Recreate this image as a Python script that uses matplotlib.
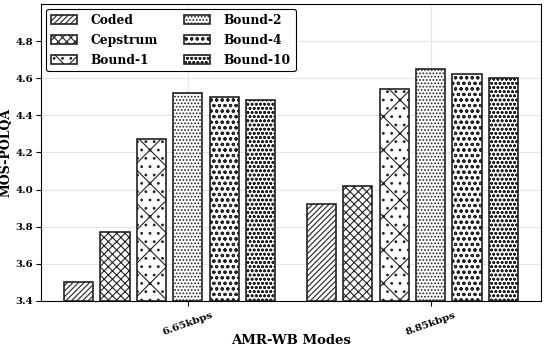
import numpy as np
import matplotlib
matplotlib.use('Agg')
import matplotlib.pyplot as plt

plt.rcParams['font.family'] = 'DejaVu Serif'
plt.rcParams['font.weight'] = 'bold'
plt.rcParams['hatch.linewidth'] = 0.8

# data
modes = ['6.65kbps', '8.85kbps']
methods = ['Coded', 'Cepstrum', 'Bound-1', 'Bound-2', 'Bound-4', 'Bound-10']
coded = [3.50, 3.92]
cepstrum = [3.77, 4.02]
bound1 = [4.27, 4.54]
bound2 = [4.52, 4.65]
bound4 = [4.50, 4.62]
bound10 = [4.48, 4.60]
hatches = ['//////', 'xxxx', 'x..', '.....', 'ooo', 'oooo....']

series = [coded, cepstrum, bound1, bound2, bound4, bound10]

fig = plt.figure(figsize=(5.44, 3.52), dpi=100)
ax = fig.add_axes([0.076, 0.145, 0.918, 0.844])

ind = np.arange(len(modes))
step = 0.15
width = 0.12
for i, vals in enumerate(series):
    ax.bar(ind + (i - 3) * step, np.array(vals) - 3.4, width, bottom=3.4,
           color='white', edgecolor='#222222', linewidth=1.2,
           hatch=hatches[i], label=methods[i], zorder=3)

yt = [3.4, 3.6, 3.8, 4.0, 4.2, 4.4, 4.6, 4.8]
ax.set_ylim(3.4, 5.0)
ax.set_yticks(yt)
ax.set_yticklabels(['%.1f' % v for v in yt], fontsize=7.3, fontweight='bold')
ax.tick_params(axis='y', pad=2.5)
ax.set_xticks(ind)
ax.set_xticklabels(modes, rotation=20, fontsize=7.5, fontweight='bold')
ax.set_xlabel('AMR-WB Modes', fontsize=9.5, fontweight='bold', labelpad=-2)
ax.set_ylabel('MOS-POLQA', fontsize=9, fontweight='bold')
ax.yaxis.set_label_coords(-0.058, 0.5)
ax.grid(color='#e6e6e6', linewidth=0.8, zorder=0)
ax.set_axisbelow(True)

leg = ax.legend(ncol=2, loc='upper left', prop={'weight': 'bold', 'size': 8.8},
                fancybox=True, edgecolor='black', framealpha=1,
                handlelength=2.1, handletextpad=1.1, columnspacing=2.2,
                labelspacing=0.57, borderaxespad=0.4)
leg.get_frame().set_linewidth(0.8)

fig.savefig('out.png', dpi=100)
